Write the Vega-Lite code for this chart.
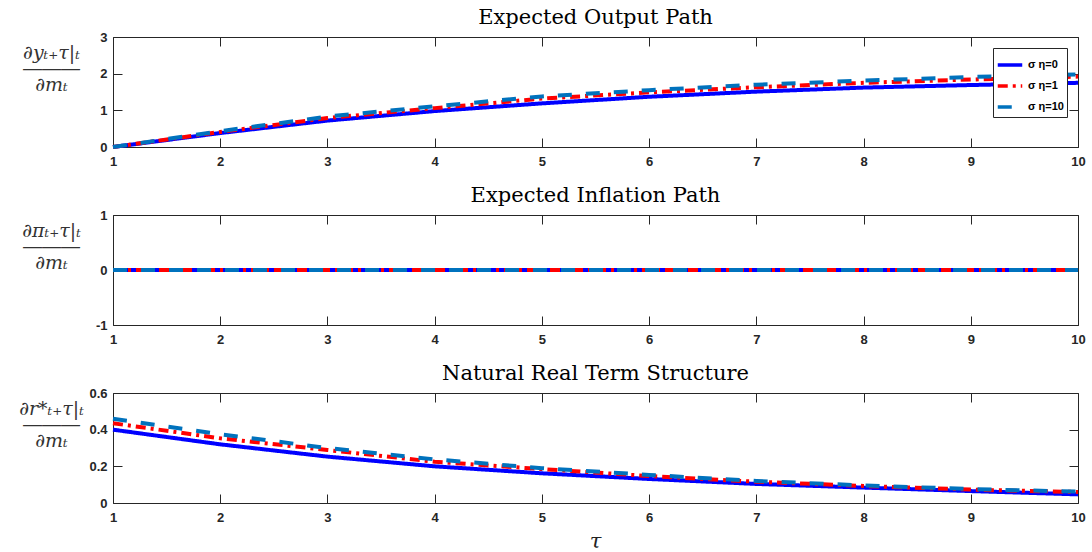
{
  "$schema": "https://vega.github.io/schema/vega-lite/v6.json",
  "padding": {"left": 18, "top": 7, "right": 5, "bottom": 0},
  "background": "white",
  "datasets": {
    "output": [
      {"tau": 1, "series": "σ η=0", "value": 0},
      {"tau": 2, "series": "σ η=0", "value": 0.38},
      {"tau": 3, "series": "σ η=0", "value": 0.72},
      {"tau": 4, "series": "σ η=0", "value": 0.98},
      {"tau": 5, "series": "σ η=0", "value": 1.19},
      {"tau": 6, "series": "σ η=0", "value": 1.37},
      {"tau": 7, "series": "σ η=0", "value": 1.51},
      {"tau": 8, "series": "σ η=0", "value": 1.62},
      {"tau": 9, "series": "σ η=0", "value": 1.69},
      {"tau": 10, "series": "σ η=0", "value": 1.75},
      {"tau": 1, "series": "σ η=1", "value": 0},
      {"tau": 2, "series": "σ η=1", "value": 0.41},
      {"tau": 3, "series": "σ η=1", "value": 0.79},
      {"tau": 4, "series": "σ η=1", "value": 1.06},
      {"tau": 5, "series": "σ η=1", "value": 1.32},
      {"tau": 6, "series": "σ η=1", "value": 1.49},
      {"tau": 7, "series": "σ η=1", "value": 1.63},
      {"tau": 8, "series": "σ η=1", "value": 1.75},
      {"tau": 9, "series": "σ η=1", "value": 1.84},
      {"tau": 10, "series": "σ η=1", "value": 1.92},
      {"tau": 1, "series": "σ η=10", "value": 0},
      {"tau": 2, "series": "σ η=10", "value": 0.43},
      {"tau": 3, "series": "σ η=10", "value": 0.83},
      {"tau": 4, "series": "σ η=10", "value": 1.11},
      {"tau": 5, "series": "σ η=10", "value": 1.38},
      {"tau": 6, "series": "σ η=10", "value": 1.55},
      {"tau": 7, "series": "σ η=10", "value": 1.7},
      {"tau": 8, "series": "σ η=10", "value": 1.81},
      {"tau": 9, "series": "σ η=10", "value": 1.91},
      {"tau": 10, "series": "σ η=10", "value": 1.98}
    ],
    "inflation": [
      {"tau": 1, "series": "σ η=0", "value": 0},
      {"tau": 2, "series": "σ η=0", "value": 0},
      {"tau": 3, "series": "σ η=0", "value": 0},
      {"tau": 4, "series": "σ η=0", "value": 0},
      {"tau": 5, "series": "σ η=0", "value": 0},
      {"tau": 6, "series": "σ η=0", "value": 0},
      {"tau": 7, "series": "σ η=0", "value": 0},
      {"tau": 8, "series": "σ η=0", "value": 0},
      {"tau": 9, "series": "σ η=0", "value": 0},
      {"tau": 10, "series": "σ η=0", "value": 0},
      {"tau": 1, "series": "σ η=1", "value": 0},
      {"tau": 2, "series": "σ η=1", "value": 0},
      {"tau": 3, "series": "σ η=1", "value": 0},
      {"tau": 4, "series": "σ η=1", "value": 0},
      {"tau": 5, "series": "σ η=1", "value": 0},
      {"tau": 6, "series": "σ η=1", "value": 0},
      {"tau": 7, "series": "σ η=1", "value": 0},
      {"tau": 8, "series": "σ η=1", "value": 0},
      {"tau": 9, "series": "σ η=1", "value": 0},
      {"tau": 10, "series": "σ η=1", "value": 0},
      {"tau": 1, "series": "σ η=10", "value": 0},
      {"tau": 2, "series": "σ η=10", "value": 0},
      {"tau": 3, "series": "σ η=10", "value": 0},
      {"tau": 4, "series": "σ η=10", "value": 0},
      {"tau": 5, "series": "σ η=10", "value": 0},
      {"tau": 6, "series": "σ η=10", "value": 0},
      {"tau": 7, "series": "σ η=10", "value": 0},
      {"tau": 8, "series": "σ η=10", "value": 0},
      {"tau": 9, "series": "σ η=10", "value": 0},
      {"tau": 10, "series": "σ η=10", "value": 0}
    ],
    "rstar": [
      {"tau": 1, "series": "σ η=0", "value": 0.4},
      {"tau": 2, "series": "σ η=0", "value": 0.32},
      {"tau": 3, "series": "σ η=0", "value": 0.253},
      {"tau": 4, "series": "σ η=0", "value": 0.2},
      {"tau": 5, "series": "σ η=0", "value": 0.162},
      {"tau": 6, "series": "σ η=0", "value": 0.131},
      {"tau": 7, "series": "σ η=0", "value": 0.104},
      {"tau": 8, "series": "σ η=0", "value": 0.084},
      {"tau": 9, "series": "σ η=0", "value": 0.065},
      {"tau": 10, "series": "σ η=0", "value": 0.047},
      {"tau": 1, "series": "σ η=1", "value": 0.435},
      {"tau": 2, "series": "σ η=1", "value": 0.353},
      {"tau": 3, "series": "σ η=1", "value": 0.289},
      {"tau": 4, "series": "σ η=1", "value": 0.225},
      {"tau": 5, "series": "σ η=1", "value": 0.185},
      {"tau": 6, "series": "σ η=1", "value": 0.147},
      {"tau": 7, "series": "σ η=1", "value": 0.116},
      {"tau": 8, "series": "σ η=1", "value": 0.093},
      {"tau": 9, "series": "σ η=1", "value": 0.073},
      {"tau": 10, "series": "σ η=1", "value": 0.06},
      {"tau": 1, "series": "σ η=10", "value": 0.46},
      {"tau": 2, "series": "σ η=10", "value": 0.375},
      {"tau": 3, "series": "σ η=10", "value": 0.3},
      {"tau": 4, "series": "σ η=10", "value": 0.238},
      {"tau": 5, "series": "σ η=10", "value": 0.19},
      {"tau": 6, "series": "σ η=10", "value": 0.153},
      {"tau": 7, "series": "σ η=10", "value": 0.12},
      {"tau": 8, "series": "σ η=10", "value": 0.096},
      {"tau": 9, "series": "σ η=10", "value": 0.076},
      {"tau": 10, "series": "σ η=10", "value": 0.062}
    ]
  },
  "spacing": 68,
  "bounds": "flush",
  "resolve": {"legend": {"color": "independent", "strokeDash": "independent"}},
  "vconcat": [
    {
      "width": 965,
      "height": 110,
      "data": {"name": "output"},
      "title": "Expected Output Path",
      "layer": [
        {
          "mark": {"type": "line", "strokeWidth": 4},
          "encoding": {
            "x": {"field": "tau", "type": "quantitative", "scale": {"domain": [1, 10], "nice": false, "zero": false},
                  "axis": {"orient": "bottom", "values": [1, 2, 3, 4, 5, 6, 7, 8, 9, 10], "title": null}},
            "y": {"field": "value", "type": "quantitative", "scale": {"domain": [0, 3], "nice": false},
                  "axis": {"orient": "left", "values": [0, 1, 2, 3], "labelExpr": "'' + datum.value",
                           "title": ["∂yₜ₊τ|ₜ", "―――", "∂mₜ"]}},
            "color": {"field": "series", "type": "nominal",
                      "scale": {"domain": ["σ η=0", "σ η=1", "σ η=10"], "range": ["#0000FF", "#FF0000", "#0072BD"]},
                      "legend": {"title": null, "orient": "none", "legendX": 880, "legendY": 11}},
            "strokeDash": {"field": "series", "type": "nominal",
                           "scale": {"domain": ["σ η=0", "σ η=1", "σ η=10"], "range": [[1, 0], [10, 5, 3, 5], [14, 14]]},
                           "legend": {"title": null, "orient": "none", "legendX": 880, "legendY": 11}}
          }
        },
        {
          "mark": {"type": "line", "opacity": 0},
          "encoding": {
            "x": {"field": "tau", "type": "quantitative",
                  "axis": {"orient": "top", "values": [1, 2, 3, 4, 5, 6, 7, 8, 9, 10], "labels": false, "title": null}},
            "y": {"field": "value", "type": "quantitative",
                  "axis": {"orient": "right", "values": [0, 1, 2, 3], "labels": false, "title": null}}
          }
        }
      ],
      "resolve": {"axis": {"x": "independent", "y": "independent"}}
    },
    {
      "width": 965,
      "height": 110,
      "data": {"name": "inflation"},
      "title": "Expected Inflation Path",
      "layer": [
        {
          "mark": {"type": "line", "strokeWidth": 4},
          "encoding": {
            "x": {"field": "tau", "type": "quantitative", "scale": {"domain": [1, 10], "nice": false, "zero": false},
                  "axis": {"orient": "bottom", "values": [1, 2, 3, 4, 5, 6, 7, 8, 9, 10], "title": null}},
            "y": {"field": "value", "type": "quantitative", "scale": {"domain": [-1, 1], "nice": false},
                  "axis": {"orient": "left", "values": [-1, 0, 1], "labelExpr": "'' + datum.value",
                           "title": ["∂πₜ₊τ|ₜ", "―――", "∂mₜ"]}},
            "color": {"field": "series", "type": "nominal",
                      "scale": {"domain": ["σ η=0", "σ η=1", "σ η=10"], "range": ["#0000FF", "#FF0000", "#0072BD"]},
                      "legend": null},
            "strokeDash": {"field": "series", "type": "nominal",
                           "scale": {"domain": ["σ η=0", "σ η=1", "σ η=10"], "range": [[1, 0], [10, 5, 3, 5], [14, 14]]},
                           "legend": null}
          }
        },
        {
          "mark": {"type": "line", "opacity": 0},
          "encoding": {
            "x": {"field": "tau", "type": "quantitative",
                  "axis": {"orient": "top", "values": [1, 2, 3, 4, 5, 6, 7, 8, 9, 10], "labels": false, "title": null}},
            "y": {"field": "value", "type": "quantitative",
                  "axis": {"orient": "right", "values": [-1, 0, 1], "labels": false, "title": null}}
          }
        }
      ],
      "resolve": {"axis": {"x": "independent", "y": "independent"}}
    },
    {
      "width": 965,
      "height": 110,
      "data": {"name": "rstar"},
      "title": "Natural Real Term Structure",
      "layer": [
        {
          "mark": {"type": "line", "strokeWidth": 4},
          "encoding": {
            "x": {"field": "tau", "type": "quantitative", "scale": {"domain": [1, 10], "nice": false, "zero": false},
                  "axis": {"orient": "bottom", "values": [1, 2, 3, 4, 5, 6, 7, 8, 9, 10], "title": "τ",
                           "titleFont": "DejaVu Serif", "titleFontStyle": "italic", "titleFontSize": 21,
                           "titleFontWeight": "normal", "titleColor": "#222", "titleBaseline": "alphabetic",
                           "titleX": 482, "titleY": 44}},
            "y": {"field": "value", "type": "quantitative", "scale": {"domain": [0, 0.6], "nice": false},
                  "axis": {"orient": "left", "values": [0, 0.2, 0.4, 0.6], "labelExpr": "'' + datum.value",
                           "title": ["∂r*ₜ₊τ|ₜ", "―――", "∂mₜ"]}},
            "color": {"field": "series", "type": "nominal",
                      "scale": {"domain": ["σ η=0", "σ η=1", "σ η=10"], "range": ["#0000FF", "#FF0000", "#0072BD"]},
                      "legend": null},
            "strokeDash": {"field": "series", "type": "nominal",
                           "scale": {"domain": ["σ η=0", "σ η=1", "σ η=10"], "range": [[1, 0], [10, 5, 3, 5], [14, 14]]},
                           "legend": null}
          }
        },
        {
          "mark": {"type": "line", "opacity": 0},
          "encoding": {
            "x": {"field": "tau", "type": "quantitative",
                  "axis": {"orient": "top", "values": [1, 2, 3, 4, 5, 6, 7, 8, 9, 10], "labels": false, "title": null}},
            "y": {"field": "value", "type": "quantitative",
                  "axis": {"orient": "right", "values": [0, 0.2, 0.4, 0.6], "labels": false, "title": null}}
          }
        }
      ],
      "resolve": {"axis": {"x": "independent", "y": "independent"}}
    }
  ],
  "config": {
    "view": {"stroke": null},
    "axis": {
      "grid": false,
      "domainColor": "#262626",
      "tickColor": "#262626",
      "labelColor": "#262626",
      "labelFont": "Liberation Sans",
      "labelFontWeight": "bold",
      "labelFontSize": 13,
      "tickSize": -9,
      "labelPadding": 15,
      "labelFlush": false,
      "labelOverlap": false
    },
    "axisBottom": {"labelPadding": 17},
    "axisLeft": {
      "titleFont": "DejaVu Serif",
      "titleFontSize": 19,
      "titleFontWeight": "normal",
      "titleFontStyle": "italic",
      "titleColor": "#333",
      "titleAngle": 0,
      "titleAlign": "center",
      "titleBaseline": "alphabetic",
      "titleX": -62,
      "titleY": 21,
      "titleLineHeight": 16
    },
    "legend": {
      "labelFont": "Liberation Sans",
      "labelFontWeight": "bold",
      "labelFontSize": 11,
      "labelColor": "#000",
      "symbolType": "stroke",
      "symbolSize": 600,
      "symbolStrokeWidth": 3.5,
      "strokeColor": "#262626",
      "fillColor": "white",
      "padding": 3,
      "rowPadding": -6,
      "labelOffset": 4
    },
    "title": {
      "font": "DejaVu Serif",
      "fontSize": 21,
      "fontWeight": "normal",
      "color": "#000",
      "baseline": "alphabetic",
      "offset": 3,
      "anchor": "middle"
    }
  }
}
